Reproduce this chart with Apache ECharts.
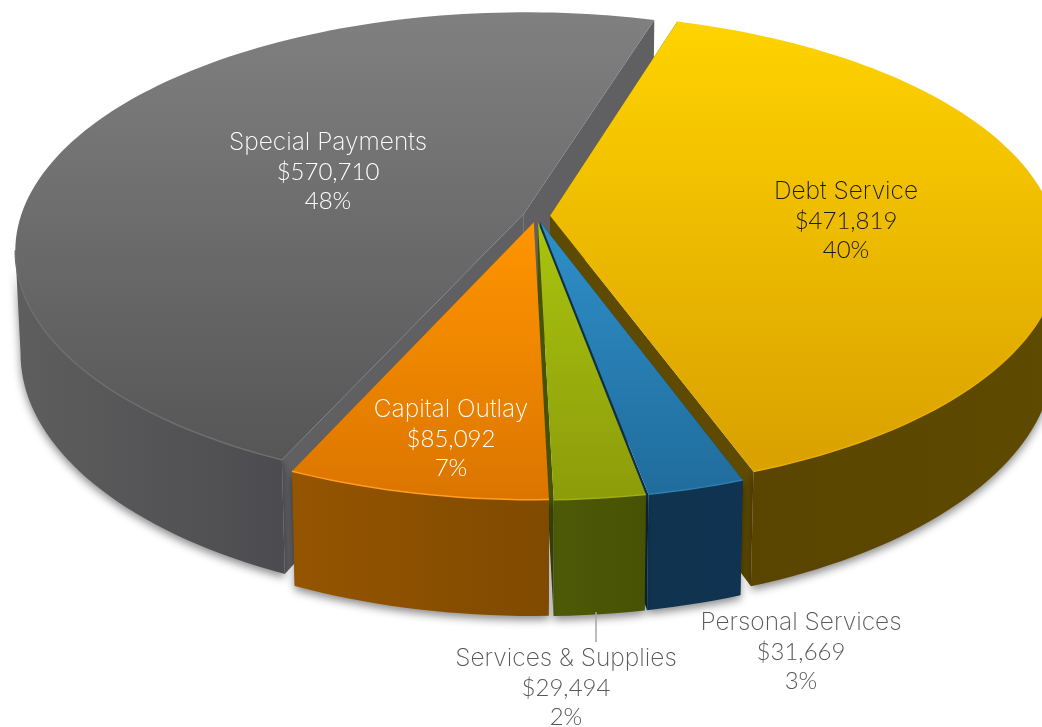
<!DOCTYPE html>
<html><head><meta charset="utf-8">
<style>html,body{margin:0;padding:0;background:#fff}#c{width:1042px;height:727px}</style>
<script src="https://cdn.jsdelivr.net/npm/echarts@6/dist/echarts.min.js"></script>
</head><body><div id="c"></div>
<script>
// ---- data (clockwise from the start angle) ----
const categories = ['Debt Service','Personal Services','Services & Supplies','Capital Outlay','Special Payments'];
const amounts = [471819,31669,29494,85092,570710];
const percentLabels = ['40%','3%','2%','7%','48%'];

// ---- styling, by category ----
const topColors = [['#ffd300','#d9a000'],['#2f8fc8','#206c9c'],['#a9c40f','#8c9c0a'],['#ff9500','#dc7500'],['#808080','#565656']];
const wallColors = [['#5a4500','#5e4a00'],['#103450','#0f3350'],['#4d5a06','#485204'],['#955500','#804a00'],['#5e5e5e','#4c4c50']];
const radialColors = ['#5e4a00','#0f3048','#465204','#804a00','#606062'];
const rimColors = ['#e8b000','#2f7fb0','#a0b010','#ff9e20','#6e6e6e'];
const textColors = ['#1a1a1a','#595959','#595959','#ffffff','#ffffff'];
const labelAnchors = [[846,221],[801,652],[566,688],[451,439],[328,172]];
const drawOrder = [4,0,1,2,3];

// ---- projection of the tilted disc ----
const V = {cx:536.5, cy:216, A:503, B:233, H:102, p:0.153, q:0.010, explode:0.027, start:17.1};
const total = amounts.reduce((a,b)=>a+b,0);
const spans = []; { let a = V.start; amounts.forEach(v=>{ const d = v/total*360; spans.push([a,a+d]); a+=d; }); }
const frontFrom = 98.8, frontTo = 261.2; // the part of the rim turned to the viewer
const rad = d => d*Math.PI/180;
function proj(x,y,z){ const s = 1/(1 - V.p*y + V.q*z); return [V.cx + V.A*x*s, V.cy + (V.B*y + V.H*z)*s]; }
function arc(a0,a1,ox,oy,z){ const pts=[], n=Math.max(4,Math.ceil((a1-a0)/1.5));
  for(let i=0;i<=n;i++){ const t=rad(a0+(a1-a0)*i/n); pts.push(proj(ox+Math.sin(t),oy-Math.cos(t),z)); } return pts; }
const vgrad = c => new echarts.graphic.LinearGradient(0,0,0,1,[{offset:0,color:c[0]},{offset:1,color:c[1]}]);
const hgrad = c => new echarts.graphic.LinearGradient(0,0,1,0,[{offset:0,color:c[0]},{offset:1,color:c[1]}]);

function renderSlice(params, api){
  const i = api.value(0), [a0,a1] = spans[i], mid = rad((a0+a1)/2);
  const ox = V.explode*Math.sin(mid), oy = -V.explode*Math.cos(mid);
  const topArc = arc(a0,a1,ox,oy,0), botArc = arc(a0,a1,ox,oy,1);
  const c0 = proj(ox,oy,0), c1 = proj(ox,oy,1);
  const f0 = Math.max(a0,frontFrom), f1 = Math.min(a1,frontTo);
  const children = [];
  // radial faces
  [[topArc[0],botArc[0]],[topArc[topArc.length-1],botArc[botArc.length-1]]].forEach(e=>{
    children.push({type:'polygon',shape:{points:[c0,e[0],e[1],c1]},style:{fill:radialColors[i]}});
  });
  // outer wall, with the soft shadow under it
  const wt = arc(f0,f1,ox,oy,0), wb = arc(f0,f1,ox,oy,1);
  children.push({type:'polygon',shape:{points:wt.concat(wb.slice().reverse())},
    style:{fill:hgrad(wallColors[i]),shadowBlur:8,shadowColor:'rgba(0,0,0,0.45)',shadowOffsetY:4}});
  // top face
  children.push({type:'polygon',shape:{points:[c0].concat(topArc)},style:{fill:vgrad(topColors[i])}});
  children.push({type:'polyline',shape:{points:wt},style:{fill:null,stroke:rimColors[i],lineWidth:1.5}});
  return {type:'group',children};
}
function renderLabel(params, api){
  const i = api.value(0), [x,y] = labelAnchors[i], lh = 29.5;
  const line = (t,dy,font)=>({type:'text',style:{text:t,x,y:y+dy,align:'center',verticalAlign:'middle',font,fill:textColors[i]}});
  const children = [
    line(categories[i],-lh,'200 24.5px Inter, Lato, sans-serif'),
    line('$'+amounts[i].toLocaleString('en-US'),0,'300 24px Lato, sans-serif'),
    line(percentLabels[i],lh,'300 24px Lato, sans-serif')];
  if(i===2) children.push({type:'line',shape:{x1:596,y1:612,x2:596,y2:642},style:{stroke:'#a6a6a6',lineWidth:1.5}});
  return {type:'group',children};
}
const chart = echarts.init(document.getElementById('c'),null,{renderer:'canvas'});
chart.setOption({animation:false,backgroundColor:'#ffffff',
  series:[
   {type:'custom',coordinateSystem:'none',renderItem:renderSlice,data:drawOrder.map(i=>[i]),silent:true,z:2},
   {type:'custom',coordinateSystem:'none',renderItem:renderLabel,data:drawOrder.map(i=>[i]),silent:true,z:3}
  ]});
</script></body></html>
